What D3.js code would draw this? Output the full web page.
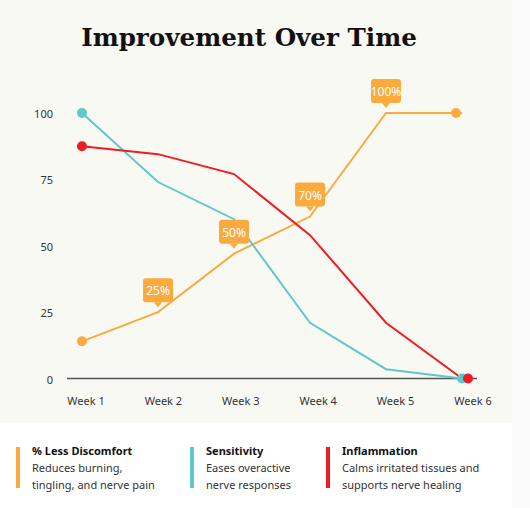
<!DOCTYPE html>
<html>
<head>
<meta charset="utf-8">
<script src="https://cdn.jsdelivr.net/npm/d3@7"></script>
<style>
  body { margin: 0; background: #fbfbfb; }
  svg { display: block; }
</style>
</head>
<body>
<div id="chart"></div>
<script>
// data
const weeks = ['Week 1', 'Week 2', 'Week 3', 'Week 4', 'Week 5', 'Week 6'];
const discomfort = [14, 25, 47, 61, 100, 100];
const sensitivity = [100, 74, 60, 21, 3.5, 0];
const inflammation = [87.5, 84.5, 77, 54, 21, 0];
const callouts = [[1, '25%'], [2, '50%'], [3, '70%'], [4, '100%']];
const yTicks = [0, 25, 50, 75, 100];

const series = [
  { name: '% Less Discomfort', values: discomfort, color: '#fbab3e',
    desc: ['Reduces burning,', 'tingling, and nerve pain'] },
  { name: 'Sensitivity', values: sensitivity, color: '#5fc8cb',
    desc: ['Eases overactive', 'nerve responses'] },
  { name: 'Inflammation', values: inflammation, color: '#ee1c24',
    desc: ['Calms irritated tissues and', 'supports nerve healing'] }
];

const W = 530, H = 508;
const svg = d3.select('#chart').append('svg').attr('width', W).attr('height', H);

svg.append('rect').attr('width', 512).attr('height', H).attr('fill', '#f9f9f4');

svg.append('text')
  .attr('x', 249).attr('y', 46)
  .attr('text-anchor', 'middle')
  .attr('font-family', '"DejaVu Serif", serif')
  .attr('font-weight', 'bold')
  .attr('font-size', 24.6)
  .attr('fill', '#111')
  .text('Improvement Over Time');

const x = d3.scalePoint().domain(weeks).range([82, 462]);
const xLabel = d3.scalePoint().domain(weeks).range([86, 473]);
const y = d3.scaleLinear().domain([0, 100]).range([378.5, 113]);

// y labels
svg.append('g').selectAll('text').data(yTicks).join('text')
  .attr('x', 53).attr('y', d => y(d) + 5)
  .attr('text-anchor', 'end')
  .attr('font-family', '"Noto Sans", sans-serif')
  .attr('font-size', 11)
  .attr('fill', '#333')
  .text(d => d);

// baseline
svg.append('line')
  .attr('x1', 67).attr('x2', 477)
  .attr('y1', y(0)).attr('y2', y(0))
  .attr('stroke', '#555').attr('stroke-width', 1.3);

// x labels
svg.append('g').selectAll('text').data(weeks).join('text')
  .attr('x', d => xLabel(d)).attr('y', 405)
  .attr('text-anchor', 'middle')
  .attr('font-family', '"Noto Sans", sans-serif')
  .attr('font-size', 11)
  .attr('fill', '#333')
  .text(d => d);

const line = d3.line().x((d, i) => x(weeks[i])).y(d => y(d));

series.forEach(s => {
  svg.append('path')
    .datum(s.values)
    .attr('d', line)
    .attr('fill', 'none')
    .attr('stroke', s.color)
    .attr('stroke-width', 2);
});

// end dots
series.forEach((s, k) => {
  const last = s.values.length - 1;
  const dots = [[0, s.values[0]], [last, s.values[last]]];
  svg.append('g').selectAll('circle').data(dots).join('circle')
    .attr('cx', d => x(weeks[d[0]]) + (d[0] === last ? (k - 1) * 6 : 0))
    .attr('cy', d => y(d[1]))
    .attr('r', 5)
    .attr('fill', s.color);
});

// callouts on the discomfort line
const cg = svg.append('g').selectAll('g').data(callouts).join('g')
  .attr('transform', d => `translate(${x(weeks[d[0]])},${y(discomfort[d[0]]) - 10})`);
cg.append('rect')
  .attr('x', -15).attr('y', -24).attr('width', 30).attr('height', 24)
  .attr('rx', 3).attr('fill', '#fbab3e');
cg.append('path').attr('d', 'M-4,0L4,0L0,5Z').attr('fill', '#fbab3e');
cg.append('text')
  .attr('y', -7)
  .attr('text-anchor', 'middle')
  .attr('font-family', '"Noto Sans", sans-serif')
  .attr('font-size', 12)
  .attr('fill', '#fff')
  .text(d => d[1]);

// legend
svg.append('rect').attr('x', 0).attr('y', 423).attr('width', 512).attr('height', 85).attr('fill', '#fff');
const lx = [16, 190, 326];
const lg = svg.append('g').selectAll('g').data(series).join('g')
  .attr('transform', (d, i) => `translate(${lx[i]},447)`);
lg.append('rect').attr('width', 4).attr('height', 41).attr('fill', d => d.color);
lg.append('text')
  .attr('x', 16).attr('y', 8)
  .attr('font-family', '"Noto Sans", sans-serif')
  .attr('font-weight', 'bold')
  .attr('font-size', 11)
  .attr('fill', '#111')
  .text(d => d.name);
lg.each(function(d) {
  d3.select(this).selectAll('text.desc').data(d.desc).join('text')
    .attr('class', 'desc')
    .attr('x', 16).attr('y', (t, i) => 25 + i * 16.5)
    .attr('font-family', '"Noto Sans", sans-serif')
    .attr('font-size', 11)
    .attr('fill', '#333')
    .text(t => t);
});
</script>
</body>
</html>
